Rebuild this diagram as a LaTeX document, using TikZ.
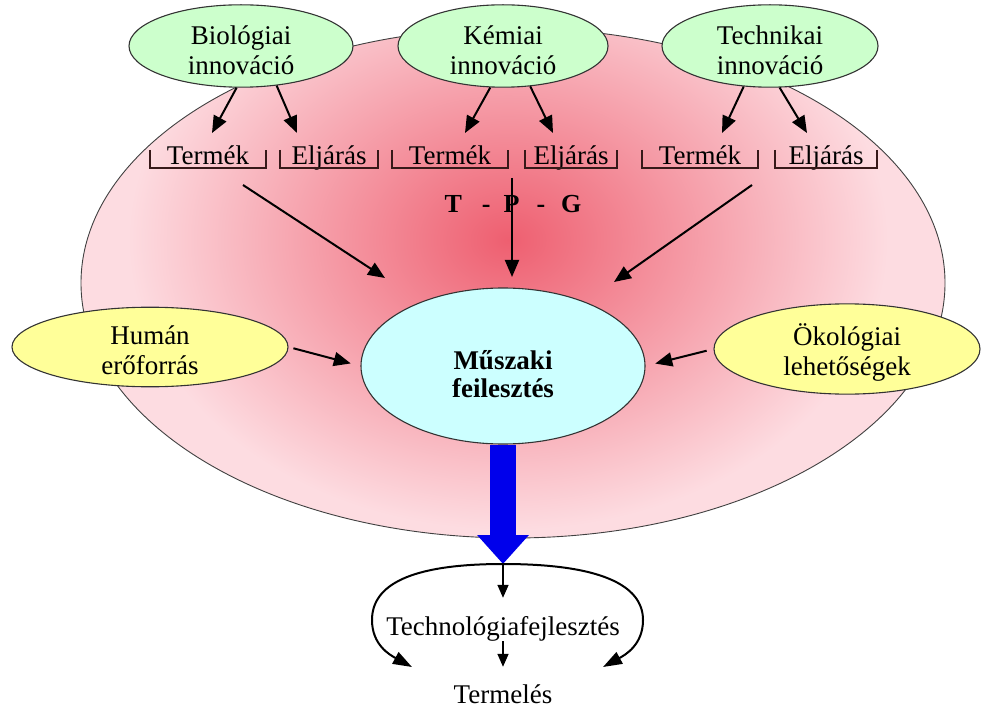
\documentclass[tikz,border=0pt]{standalone}
\usepackage{fontspec}
\setmainfont{Liberation Serif}
\usetikzlibrary{arrows.meta,shapes.geometric}

\definecolor{pinkout}{RGB}{253,220,225}
\definecolor{pinkin}{RGB}{238,95,112}
\definecolor{leaf}{RGB}{204,255,204}
\definecolor{lemon}{RGB}{255,255,153}
\definecolor{ice}{RGB}{204,255,255}
\definecolor{brkcol}{RGB}{55,25,25}
\definecolor{flow}{RGB}{0,0,235}

\begin{document}
\begin{tikzpicture}[x=1pt,y=-1pt,
  txt/.style={font=\fontsize{27}{30}\selectfont},
  oval/.style={ellipse, draw=black!80, line width=1.1pt, inner sep=0pt, align=center, txt},
  brk/.style={txt, anchor=base, inner xsep=0pt, inner ysep=0pt, text height=15pt, text depth=3pt},
  brkline/.style={draw=brkcol, line width=2.2pt},
  arr/.style={line width=2pt, -{Triangle[length=17pt,width=14pt]}},
  smallarr/.style={line width=1.6pt, -{Triangle[length=13pt,width=11pt]}},
  curvearr/.style={line width=2pt, -{Triangle[length=19pt,width=13pt]}},
  bluearr/.style={draw=flow, line width=26pt, -{Triangle[length=29pt,width=50pt]}},
  lbl/.style={txt, anchor=base, inner sep=0pt, text height=18pt, text depth=6pt}
]
\useasboundingbox (0,0) rectangle (981,708);

% large background ellipse with a reddish core
\fill[pinkout] (513,283) ellipse [x radius=432pt, y radius=255pt];
\begin{scope}
  \clip (513,283) ellipse [x radius=432pt, y radius=255pt];
  \shade[inner color=pinkin, outer color=pinkout] (508,240) ellipse [x radius=380pt, y radius=290pt];
\end{scope}
\draw[black!75, line width=0.9pt] (513,283) ellipse [x radius=432pt, y radius=255pt];

% innovation sources
\node[oval, fill=leaf, minimum width=224pt, minimum height=72pt] (bio) at (241,46) {\rule{0pt}{28pt}Biológiai\\innováció};
\node[oval, fill=leaf, minimum width=210pt, minimum height=72pt] (kem) at (503,46) {\rule{0pt}{28pt}Kémiai\\innováció};
\node[oval, fill=leaf, minimum width=216pt, minimum height=72pt] (tec) at (770,46) {\rule{0pt}{28pt}Technikai\\innováció};

% product / process labels
\node[brk, minimum width=116pt] (t1) at (208,165) {Termék};
\node[brk, minimum width=98pt]  (e1) at (329,165) {Eljárás};
\node[brk, minimum width=116pt] (t2) at (450,165) {Termék};
\node[brk, minimum width=92pt]  (e2) at (571,165) {Eljárás};
\node[brk, minimum width=116pt] (t3) at (700,165) {Termék};
\node[brk, minimum width=102pt] (e3) at (826,165) {Eljárás};
\foreach \b in {t1,e1,t2,e2,t3,e3}
  \draw[brkline] (\b.north west) |- (\b.south) -| (\b.north east);

\node[font=\bfseries\fontsize{26}{28}\selectfont, anchor=base, inner sep=0pt] (tpg) at (513,213)
  {T\hspace{20pt}-\hspace{13pt}P\hspace{17pt}-\hspace{16pt}G};

% side inputs and the central node
\node[oval, fill=lemon, minimum width=276pt, minimum height=78pt] (hum) at (150,347) {\rule{0pt}{26pt}Humán\\erőforrás};
\node[oval, fill=lemon, minimum width=266pt, minimum height=72pt] (eco) at (847,349) {\rule{0pt}{28pt}Ökológiai\\lehetőségek};
\node[oval, fill=ice, minimum width=284pt, minimum height=156pt,
      font=\bfseries\fontsize{27}{28}\selectfont] (mf) at (503,366) {\rule{0pt}{36pt}Műszaki\\feilesztés};

% arrow end points
\coordinate (p1) at (212,133);
\coordinate (p2) at (297,133);
\coordinate (p3) at (465,133);
\coordinate (p4) at (553,133);
\coordinate (p5) at (722,133);
\coordinate (p6) at (807,133);
\coordinate (l0) at (243,185);
\coordinate (l1) at (385,278);
\coordinate (m0) at (512,178);
\coordinate (m1) at (512,277);
\coordinate (r0) at (752,185);
\coordinate (r1) at (614,282);

\draw[arr] (bio.264) -- (p1);
\draw[arr] (bio.312) -- (p2);
\draw[arr] (kem.253) -- (p3);
\draw[arr] (kem.304) -- (p4);
\draw[arr] (tec.237) -- (p5);
\draw[arr] (tec.283) -- (p6);

\draw[arr] (l0) -- (l1);
\draw[arr] (m0) -- (m1);
\draw[arr] (r0) -- (r1);

\draw[arr, shorten <=5pt, shorten >=10pt] (hum.east) -- (mf.west);
\draw[arr, shorten <=7pt, shorten >=10pt] (eco.west) -- (mf.east);

% output towards technology and production
\coordinate (loop) at (503,564);
\draw[bluearr] (mf.south) -- (mf.south |- loop);

\node[lbl] (tf) at (503,635) {Technológiafejlesztés};
\node[lbl] (prod) at (503,703) {Termelés};

\coordinate (cl) at (412,667);
\coordinate (cr) at (603,667);
\draw[smallarr] (loop) -- ([yshift=19pt]tf.north);
\draw[smallarr] (tf.south) -- ([yshift=18pt]prod.north);
\draw[curvearr] (loop) .. controls (410,564) and (372,585) .. (372,620)
                       .. controls (372,645) and (390,655) .. (cl);
\draw[curvearr] (loop) .. controls (600,564) and (643,585) .. (643,620)
                       .. controls (643,645) and (625,655) .. (cr);
\end{tikzpicture}
\end{document}
